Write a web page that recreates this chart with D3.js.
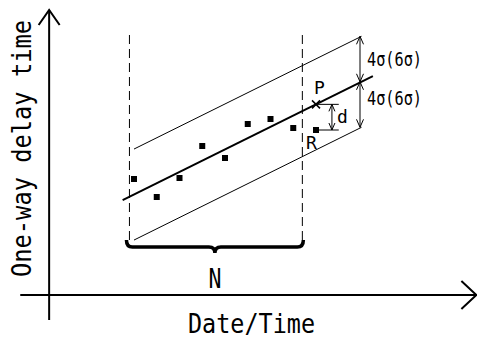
<!DOCTYPE html>
<html>
<head>
<meta charset="utf-8">
<script src="https://cdn.jsdelivr.net/npm/d3@7"></script>
<style>
  body { margin: 0; background: #fff; }
  svg { display: block; }
  text { font-family: "DejaVu Sans Mono", monospace; fill: #000; }
</style>
</head>
<body>
<svg width="477" height="338"></svg>
<script>
// measured delay samples (time index, delay)
const timeIdx = [1, 2, 3, 4, 5, 6, 7, 8, 9];
const delays = [4.64, 3.92, 4.68, 5.96, 5.48, 6.84, 7.04, 6.68, 6.6];

// fitted line and band (delay = intercept + slope * t), band = 4 sigma
const intercept = 3.567;
const slope = 0.451;
const band = 1.82;

// window of N samples
const windowStart = 0.8;
const windowEnd = 8.4;

const xLabel = "Date/Time";
const yLabel = "One-way delay time";
const bandLabels = ["4σ(6σ)", "4σ(6σ)"];

const svg = d3.select("svg");

const x = d3.scaleLinear().domain([0, 10]).range([111.25, 338.75]);
const y = d3.scaleLinear().domain([0, 10]).range([295, 45]);
const fit = t => intercept + slope * t;

// arrowhead helper: open V at (px,py) pointing in direction (dx,dy)
function arrowHead(g, px, py, dx, dy, len, half, w) {
  const n = Math.hypot(dx, dy); dx /= n; dy /= n;
  const bx = px - dx * len, by = py - dy * len;
  g.append("path")
    .attr("d", `M${bx - dy * half},${by + dx * half}L${px},${py}L${bx + dy * half},${by - dx * half}`)
    .attr("fill", "none").attr("stroke", "#000").attr("stroke-width", w);
}

// axes
const ax = svg.append("g");
ax.append("line").attr("x1", x(-2.73)).attr("x2", x(-2.73))
  .attr("y1", y(-1)).attr("y2", y(11.4))
  .attr("stroke", "#000").attr("stroke-width", 2);
arrowHead(ax, x(-2.73), y(11.4), 0, -1, 15, 10.5, 2);
ax.append("line").attr("x1", x(-4)).attr("x2", x(16.05))
  .attr("y1", y(0)).attr("y2", y(0))
  .attr("stroke", "#000").attr("stroke-width", 2);
arrowHead(ax, x(16.05), y(0), 1, 0, 15, 14, 2);

// window dashed lines
[windowStart, windowEnd].forEach(t => {
  svg.append("line").attr("x1", x(t)).attr("x2", x(t))
    .attr("y1", y(10.4)).attr("y2", y(2.2))
    .attr("stroke", "#000").attr("stroke-width", 1)
    .attr("stroke-dasharray", "9,5");
});

// band lines
[band, -band].forEach(off => {
  svg.append("line")
    .attr("x1", x(1)).attr("y1", y(fit(1) + off))
    .attr("x2", x(11)).attr("y2", y(fit(11) + off))
    .attr("stroke", "#000").attr("stroke-width", 1);
});

// fitted line
svg.append("line")
  .attr("x1", x(0.5)).attr("y1", y(fit(0.5)))
  .attr("x2", x(11.5)).attr("y2", y(fit(11.5)))
  .attr("stroke", "#000").attr("stroke-width", 2);

// samples
svg.selectAll("rect.pt")
  .data(timeIdx.map((t, i) => [t, delays[i]]))
  .join("rect").attr("class", "pt")
  .attr("x", d => x(d[0]) - 3).attr("y", d => y(d[1]) - 3)
  .attr("width", 6).attr("height", 6).attr("fill", "#000");

// band arrows at t=11
const g4 = svg.append("g");
const bx = x(11) - 1.5;
g4.append("line").attr("x1", bx).attr("x2", bx)
  .attr("y1", y(fit(11) + band)).attr("y2", y(fit(11) - band))
  .attr("stroke", "#000").attr("stroke-width", 1);
arrowHead(g4, bx, y(fit(11) + band), 0, -1, 8, 3.5, 1);
arrowHead(g4, bx, y(fit(11)), 0, 1, 8, 3.5, 1);
arrowHead(g4, bx, y(fit(11)), 0, -1, 8, 3.5, 1);
arrowHead(g4, bx, y(fit(11) - band), 0, 1, 8, 3.5, 1);
g4.selectAll("text").data(bandLabels).join("text")
  .attr("x", 367).attr("y", (d, i) => i === 0 ? 66 : 105)
  .attr("font-size", 20).attr("textLength", 55).attr("lengthAdjust", "spacingAndGlyphs")
  .text(d => d);

// d distance between predicted P and observed R
const tP = timeIdx[timeIdx.length - 1];
const yP = y(fit(tP)), yR = y(delays[delays.length - 1]);
const gd = svg.append("g");
gd.append("line").attr("x1", x(tP)).attr("x2", x(10)).attr("y1", yP).attr("y2", yP)
  .attr("stroke", "#000").attr("stroke-width", 1);
gd.append("line").attr("x1", x(tP)).attr("x2", x(10)).attr("y1", yR).attr("y2", yR)
  .attr("stroke", "#000").attr("stroke-width", 1);
gd.append("line").attr("x1", x(9.7)).attr("x2", x(9.7)).attr("y1", yP).attr("y2", yR)
  .attr("stroke", "#000").attr("stroke-width", 1);
arrowHead(gd, x(9.7), yP, 0, -1, 7, 3, 1);
arrowHead(gd, x(9.7), yR, 0, 1, 7, 3, 1);
// cross at P
gd.append("path")
  .attr("d", `M${x(tP) - 4},${yP - 4}L${x(tP) + 4},${yP + 4}M${x(tP) - 4},${yP + 4}L${x(tP) + 4},${yP - 4}`)
  .attr("stroke", "#000").attr("stroke-width", 1.5);
gd.append("text").attr("x", x(tP) - 2).attr("y", yP - 10).attr("font-size", 18).text("P");
gd.append("text").attr("x", x(tP) - 10).attr("y", yR + 19).attr("font-size", 18).text("R");
gd.append("text").attr("x", x(9.7) + 5).attr("y", yR - 7).attr("font-size", 18).text("d");

// brace under window
const bx0 = x(windowStart) - 3, bx1 = x(windowEnd) + 1, bxm = (bx0 + bx1) / 2;
const bTop = 240, bBase = 247, bTip = 253, q = 6;
svg.append("path")
  .attr("d", `M${bx0},${bTop}Q${bx0},${bBase} ${bx0 + q},${bBase}L${bxm - q},${bBase}Q${bxm},${bBase} ${bxm},${bTip}` +
             `Q${bxm},${bBase} ${bxm + q},${bBase}L${bx1 - q},${bBase}Q${bx1},${bBase} ${bx1},${bTop}`)
  .attr("fill", "none").attr("stroke", "#000").attr("stroke-width", 3.5);
svg.append("text").attr("x", bxm).attr("y", 288).attr("text-anchor", "middle")
  .attr("font-size", 27).attr("textLength", 13).attr("lengthAdjust", "spacingAndGlyphs").text("N");

// axis labels
svg.append("text").attr("x", 251.5).attr("y", 333).attr("text-anchor", "middle")
  .attr("font-size", 27).attr("textLength", 127).attr("lengthAdjust", "spacingAndGlyphs")
  .text(xLabel);
svg.append("text").attr("transform", "translate(31,148.5) rotate(-90)")
  .attr("text-anchor", "middle")
  .attr("font-size", 27).attr("textLength", 257).attr("lengthAdjust", "spacingAndGlyphs")
  .text(yLabel);
</script>
</body>
</html>
